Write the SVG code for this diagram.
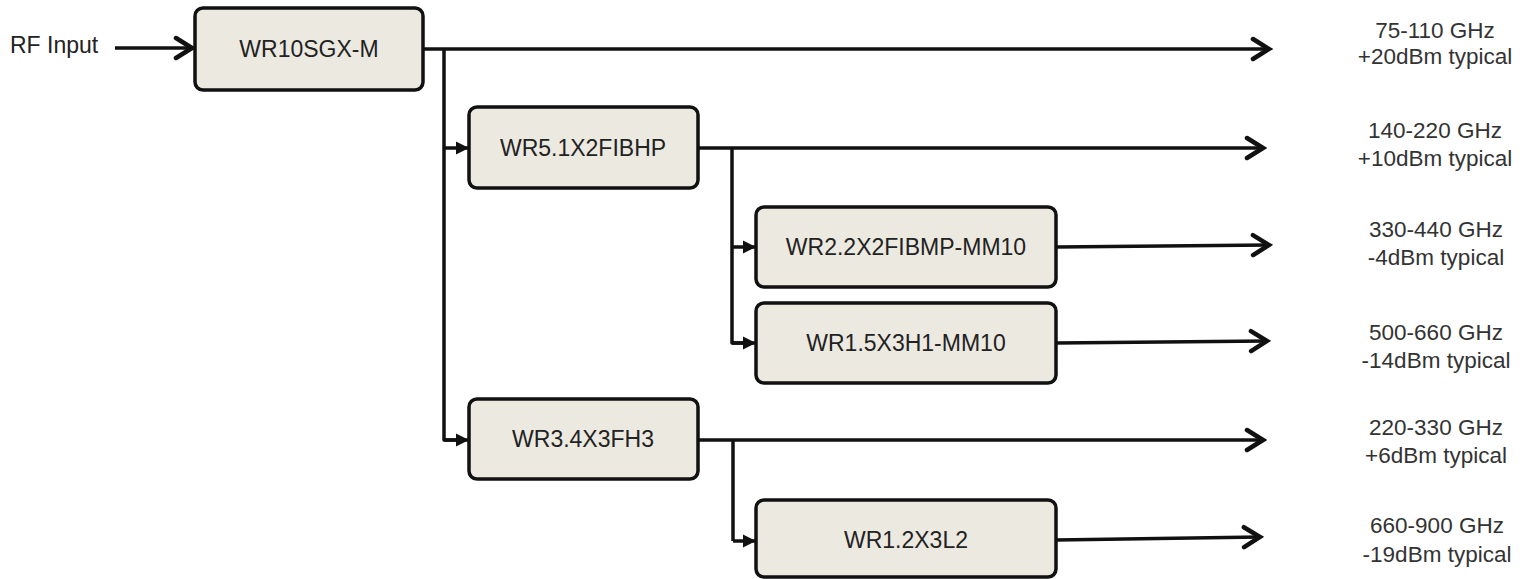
<svg xmlns="http://www.w3.org/2000/svg" width="1538" height="579" viewBox="0 0 1538 579">
<style>
.box{fill:#ECE9E1;stroke:#111;stroke-width:3.5}
.t{font-family:"Liberation Sans",Arial,sans-serif;font-size:23px;fill:#222;text-anchor:middle}
.lbl{font-family:"Liberation Sans",Arial,sans-serif;font-size:22.5px;fill:#333;text-anchor:middle}
.c{fill:none;stroke:#111;stroke-width:3.5;stroke-linejoin:round}
.open{marker-end:url(#open)}
.fill{marker-end:url(#tri)}
</style>
<defs>
<marker id="open" markerUnits="userSpaceOnUse" viewBox="-20 -14 24 28" refX="0" refY="0" markerWidth="24" markerHeight="28" orient="auto">
<path d="M-16,-10 L0,0 L-16,10" fill="none" stroke="#111" stroke-width="4.5" stroke-linecap="round" stroke-linejoin="miter"/>
</marker>
<marker id="tri" markerUnits="userSpaceOnUse" viewBox="-14 -8 16 16" refX="0" refY="0" markerWidth="16" markerHeight="16" orient="auto">
<path d="M-13,-6.5 L0,0 L-13,6.5 Z" fill="#111"/>
</marker>
</defs>
<rect width="1538" height="579" fill="#fff"/>
<g id="connectors">
<path class="c open" d="M115,48 H192"/>
<path class="c open" d="M423,49 H1269"/>
<path class="c" d="M444,49 V440 H456"/>
<path class="c fill" d="M444,440 H469"/>
<path class="c fill" d="M444,148 H469"/>
<path class="c open" d="M698,148 H1263"/>
<path class="c" d="M732,148 V343 H744"/>
<path class="c fill" d="M732,343 H756"/>
<path class="c fill" d="M732,247 H756"/>
<path class="c open" d="M1056,247 L1269,245"/>
<path class="c open" d="M1056,343 L1267,341"/>
<path class="c open" d="M698,440 H1263"/>
<path class="c" d="M733,440 V541"/>
<path class="c fill" d="M733,541 H756"/>
<path class="c open" d="M1056,540 L1260,537"/>
</g>
<g id="rf-input"><text class="t" x="10" y="53" style="text-anchor:start">RF Input</text></g>
<g id="n1"><rect class="box" x="195" y="8" width="228" height="82" rx="8"/><text class="t" x="309" y="57">WR10SGX-M</text></g>
<g id="n2"><rect class="box" x="469" y="107" width="229" height="81" rx="8"/><text class="t" x="583" y="156">WR5.1X2FIBHP</text></g>
<g id="n3"><rect class="box" x="756" y="207" width="300" height="80" rx="8"/><text class="t" x="906" y="255">WR2.2X2FIBMP-MM10</text></g>
<g id="n4"><rect class="box" x="756" y="303" width="300" height="80" rx="8"/><text class="t" x="906" y="351">WR1.5X3H1-MM10</text></g>
<g id="n5"><rect class="box" x="469" y="399" width="229" height="80" rx="8"/><text class="t" x="583" y="447">WR3.4X3FH3</text></g>
<g id="n6"><rect class="box" x="756" y="500" width="300" height="77" rx="8"/><text class="t" x="906" y="548">WR1.2X3L2</text></g>
<g id="out1"><text class="lbl" x="1435" y="38">75-110 GHz</text><text class="lbl" x="1435" y="64">+20dBm typical</text></g>
<g id="out2"><text class="lbl" x="1435" y="138">140-220 GHz</text><text class="lbl" x="1435" y="166">+10dBm typical</text></g>
<g id="out3"><text class="lbl" x="1436" y="237">330-440 GHz</text><text class="lbl" x="1436" y="265">-4dBm typical</text></g>
<g id="out4"><text class="lbl" x="1436" y="340">500-660 GHz</text><text class="lbl" x="1436" y="368">-14dBm typical</text></g>
<g id="out5"><text class="lbl" x="1436" y="435">220-330 GHz</text><text class="lbl" x="1436" y="463">+6dBm typical</text></g>
<g id="out6"><text class="lbl" x="1437" y="533">660-900 GHz</text><text class="lbl" x="1437" y="562">-19dBm typical</text></g>
</svg>
